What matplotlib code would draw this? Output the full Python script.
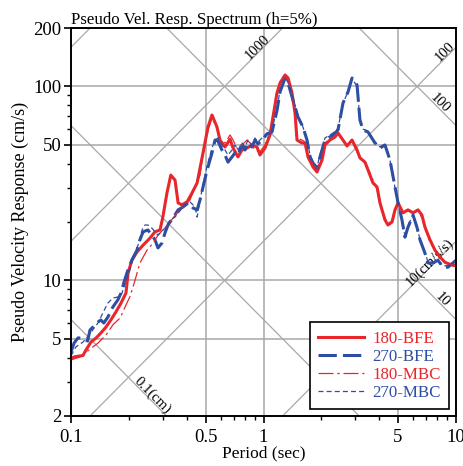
""" pseudo velocity response spectrum on a tripartite grid """
import matplotlib
matplotlib.use('Agg')
import matplotlib.pyplot as plt
from matplotlib.ticker import FixedLocator, NullFormatter
import numpy as np

plt.rcParams['font.family'] = ['Liberation Serif', 'DejaVu Serif']

# 180-BFE
t_180_bfe = [0.100, 0.106, 0.1154, 0.1196, 0.127, 0.135, 0.143, 0.152, 0.161, 0.171, 0.182, 0.193,
             0.198, 0.207, 0.220, 0.237, 0.257, 0.273, 0.290, 0.300, 0.315, 0.330, 0.347, 0.360,
             0.377, 0.401, 0.425, 0.452, 0.485, 0.515, 0.540, 0.573, 0.594, 0.631, 0.670, 0.695,
             0.737, 0.773, 0.821, 0.871, 0.925, 0.959, 1.018, 1.081, 1.120, 1.175, 1.219, 1.294,
             1.341, 1.406, 1.458, 1.493, 1.585, 1.643, 1.703, 1.808, 1.897, 2.014, 2.086, 2.213,
             2.350, 2.438, 2.588, 2.715, 2.884, 3.061, 3.170, 3.367, 3.490, 3.704, 3.890, 4.027,
             4.276, 4.433, 4.653, 4.821, 5.000, 5.304, 5.630, 5.984, 6.351, 6.653, 6.901, 7.324,
             7.780, 8.250, 8.760, 9.527, 10.0]
v_180_bfe = [3.98, 4.05, 4.1, 4.38, 4.81, 5.05, 5.36, 5.75, 6.25, 6.87, 7.65, 8.61,
             10.9, 12.7, 14.0, 15.2, 16.5, 17.8, 18.2, 21.2, 28.2, 34.9, 32.9, 25.1,
             24.5, 25.4, 28.2, 31.8, 45.4, 61.8, 71.2, 61.8, 52.9, 48.7, 53.5, 48.1,
             43.3, 47.0, 48.1, 49.9, 48.7, 44.3, 48.1, 56.2, 69.5, 92.5, 104.1, 114.5,
             110.5, 92.5, 72.9, 52.9, 51.1, 51.1, 43.3, 38.4, 36.2, 41.7, 49.9, 52.9,
             54.8, 57.5, 52.9, 49.3, 52.9, 47.0, 42.8, 40.7, 37.1, 31.8, 30.3, 25.1,
             20.5, 19.3, 20.0, 23.1, 25.1, 22.3, 23.1, 22.3, 23.1, 21.7, 18.8, 16.2,
             14.3, 13.2, 12.4, 12.0, 11.9]

# 270-BFE
t_270_bfe = [0.100, 0.1037, 0.1087, 0.1154, 0.122, 0.1255, 0.138, 0.143, 0.148, 0.1556, 0.165,
             0.175, 0.182, 0.188, 0.195, 0.207, 0.220, 0.228, 0.237, 0.251, 0.263, 0.273, 0.283,
             0.297, 0.308, 0.319, 0.339, 0.360, 0.382, 0.406, 0.431, 0.452, 0.468, 0.485, 0.509,
             0.540, 0.560, 0.580, 0.608, 0.631, 0.654, 0.686, 0.711, 0.737, 0.773, 0.802, 0.830,
             0.871, 0.903, 0.936, 0.982, 1.042, 1.107, 1.175, 1.219, 1.294, 1.341, 1.422, 1.511,
             1.603, 1.683, 1.745, 1.808, 1.897, 1.966, 2.086, 2.296, 2.438, 2.588, 2.748, 2.884,
             3.061, 3.170, 3.288, 3.490, 3.793, 4.027, 4.276, 4.539, 4.821, 5.000, 5.240, 5.431,
             5.630, 5.984, 6.268, 6.501, 6.901, 7.155, 7.597, 8.059, 8.557, 9.086, 9.638, 10.0]
v_270_bfe = [4.27, 4.75, 5.05, 5.05, 4.87, 5.55, 6.10, 6.25, 6.03, 6.48, 7.29,
             7.92, 8.61, 9.70, 10.9, 12.7, 14.3, 16.2, 17.8, 18.2, 17.1, 16.2, 14.7,
             15.6, 17.6, 19.3, 21.0, 23.1, 23.9, 25.1, 23.6, 23.1, 26.0, 30.3, 37.0,
             45.4, 52.9, 52.3, 47.0, 44.3, 40.7, 43.3, 45.4, 44.3, 49.9, 47.0, 51.1,
             48.7, 52.9, 50.5, 52.9, 56.8, 58.2, 75.0, 93.6, 110.5, 104.1, 85.1, 69.5,
             61.8, 52.9, 43.3, 40.3, 37.9, 43.3, 52.9, 56.2, 59.6, 82.1, 93.6, 110.5,
             101.7, 67.1, 59.6, 58.2, 51.1, 48.1, 49.9, 41.7, 30.3, 25.1, 20.5, 16.7,
             18.8, 21.7, 18.8, 16.2, 13.8, 12.3, 12.3, 12.7, 11.7, 11.7, 12.3, 12.7]

# 180-MBC
t_180_mbc = [0.100, 0.1114, 0.124, 0.138, 0.152, 0.165, 0.180, 0.193, 0.202, 0.215, 0.228, 0.248,
             0.267, 0.283, 0.300, 0.327, 0.355, 0.382, 0.415, 0.441, 0.468, 0.485, 0.515, 0.540,
             0.573, 0.594, 0.631, 0.670, 0.695, 0.737, 0.773, 0.821, 0.851, 0.903, 0.959, 1.018,
             1.081, 1.120, 1.175, 1.219, 1.294, 1.341, 1.406, 1.458, 1.493, 1.585, 1.643, 1.703,
             1.808, 1.897, 2.014, 2.086, 2.213, 2.350, 2.438, 2.588, 2.715, 2.884, 3.061, 3.170,
             3.367, 3.490, 3.704, 3.890, 4.027, 4.276, 4.433, 4.653, 4.821, 5.000, 5.304, 5.630,
             5.984, 6.351, 6.653, 6.901, 7.324, 7.780, 8.250, 8.760, 9.527, 10.0]
v_180_mbc = [3.89, 4.03, 4.38, 4.75, 5.23, 5.9, 6.4, 7.47, 8.21, 10.0, 12.3, 14.3,
             15.6, 17.1, 18.2, 20.0, 22.3, 23.9, 26.0, 30.3, 34.9, 44.3, 59.6, 68.8,
             61.0, 52.9, 51.1, 56.2, 52.9, 47.0, 49.9, 52.9, 51.1, 47.0, 46.0, 49.9,
             58.2, 71.2, 93.6, 106.0, 111.7, 107.9, 90.5, 71.2, 54.2, 52.9, 51.7, 44.3,
             39.5, 37.9, 42.8, 51.1, 54.2, 56.2, 57.5, 52.3, 49.3, 52.3, 46.0, 43.3,
             40.3, 37.9, 32.9, 29.5, 24.5, 21.0, 19.5, 20.5, 23.1, 24.5, 22.5, 22.8,
             22.5, 22.8, 21.0, 18.6, 15.8, 14.3, 13.4, 12.5, 12.0, 11.9]

# 270-MBC
t_270_mbc = [0.100, 0.106, 0.1154, 0.124, 0.138, 0.148, 0.1556, 0.165, 0.175, 0.184, 0.190, 0.198,
             0.207, 0.225, 0.234, 0.242, 0.251, 0.263, 0.283, 0.308, 0.327, 0.347, 0.382, 0.415,
             0.441, 0.452, 0.468, 0.485, 0.509, 0.540, 0.560, 0.580, 0.608, 0.631, 0.654, 0.686,
             0.711, 0.737, 0.773, 0.802, 0.830, 0.871, 0.903, 0.936, 0.982, 1.042, 1.107, 1.175,
             1.219, 1.294, 1.341, 1.422, 1.511, 1.603, 1.683, 1.745, 1.808, 1.897, 1.966, 2.086,
             2.296, 2.438, 2.588, 2.748, 2.884, 3.061, 3.170, 3.288, 3.490, 3.793, 4.027, 4.276,
             4.539, 4.821, 5.000, 5.240, 5.431, 5.630, 5.984, 6.268, 6.501, 6.901, 7.155, 7.597,
             8.059, 8.557, 9.086, 9.638, 10.0]
v_270_mbc = [4.08, 4.54, 4.81, 5.23, 6.03, 6.95, 7.65, 8.11, 8.21, 8.61, 9.47, 10.6,
             12.4, 15.6, 18.2, 19.3, 19.3, 18.6, 17.1, 18.6, 20.5, 21.2, 23.9, 25.4,
             23.9, 21.2, 26.0, 31.0, 38.9, 48.1, 52.9, 54.2, 49.9, 47.0, 44.3, 47.0,
             49.9, 47.0, 51.1, 48.7, 52.9, 49.9, 54.2, 51.7, 54.2, 57.5, 59.6, 77.0,
             95.8, 110.5, 105.0, 87.0, 71.2, 61.8, 52.9, 44.3, 40.7, 38.4, 44.3, 54.2,
             57.5, 60.7, 82.1, 93.6, 109.0, 100.5, 67.1, 60.3, 58.8, 51.7, 48.7, 50.5,
             41.7, 30.0, 24.5, 20.5, 16.9, 19.0, 22.0, 19.0, 16.2, 14.0, 12.4, 12.4,
             12.7, 11.9, 11.9, 12.3, 12.7]

# tripartite grid: displacement (cm) and acceleration (cm/s/s) decades
disp_levels = [0.01, 0.1, 1, 10, 100, 1000]
acc_levels = [1, 10, 100, 1000, 10000, 100000]

x_ticks = [0.1, 0.5, 1, 5, 10]
y_ticks = [2, 5, 10, 50, 100, 200]

RED = '#e8262b'
BLUE = '#2e4ea3'
GRID = '#a8a8a8'

fig = plt.figure(figsize=(4.64, 4.66), dpi=100)
ax = fig.add_axes([71 / 464, 1 - 416 / 466, 385 / 464, 388 / 466])
ax.set_xscale('log')
ax.set_yscale('log')
ax.set_xlim(0.1, 10)
ax.set_ylim(2, 200)

# diagonal lines
tt = np.array([0.05, 20.0])
for d in disp_levels:
    ax.plot(tt, 2 * np.pi * d / tt, color=GRID, lw=0.9, zorder=1)
for a in acc_levels:
    ax.plot(tt, a * tt / (2 * np.pi), color=GRID, lw=0.9, zorder=1)

# major grid
for x in x_ticks[1:-1]:
    ax.axvline(x, color=GRID, lw=1.1, zorder=1)
for y in y_ticks[1:-1]:
    ax.axhline(y, color=GRID, lw=1.1, zorder=1)

# diagonal labels
lab = dict(fontsize=10.5, ha='center', va='center', zorder=2)
ax.text(0.93, 160, '1000', rotation=45, **lab)
ax.text(8.77, 150, '100', rotation=45, **lab)
ax.text(8.26, 82, '100', rotation=-45, **lab)
ax.text(7.33, 12.4, '10(cm/s/s)', rotation=45, **lab)
ax.text(8.45, 7.93, '10', rotation=-45, **lab)
ax.text(0.264, 2.56, '0.1(cm)', rotation=-45, **lab)

# spectra
ax.plot(t_180_bfe, v_180_bfe, color=RED, lw=2.2, label='180-BFE', zorder=3)
ax.plot(t_270_bfe, v_270_bfe, color=BLUE, lw=2.2, dashes=(6, 2), label='270-BFE', zorder=4)
ax.plot(t_180_mbc, v_180_mbc, color=RED, lw=0.9, dashes=(12, 3, 2, 3), label='180-MBC', zorder=5)
ax.plot(t_270_mbc, v_270_mbc, color=BLUE, lw=0.9, dashes=(4, 2.5), label='270-MBC', zorder=6)

# axes and ticks
ax.xaxis.set_major_locator(FixedLocator(x_ticks))
ax.set_xticklabels(['0.1', '0.5', '1', '5', '10'])
ax.xaxis.set_minor_locator(FixedLocator([0.2, 0.3, 0.4, 0.6, 0.7, 0.8, 0.9,
                                         2, 3, 4, 6, 7, 8, 9]))
ax.xaxis.set_minor_formatter(NullFormatter())
ax.yaxis.set_major_locator(FixedLocator(y_ticks))
ax.set_yticklabels(['2', '5', '10', '50', '100', '200'])
ax.yaxis.set_minor_locator(FixedLocator([3, 4, 6, 7, 8, 9, 20, 30, 40, 60, 70, 80, 90]))
ax.yaxis.set_minor_formatter(NullFormatter())
ax.tick_params(which='major', direction='out', length=5, width=1.2, labelsize=13.5, pad=2)
ax.tick_params(axis='x', which='major', pad=4)
ax.tick_params(which='minor', direction='out', length=3, width=1)
for s in ax.spines.values():
    s.set_linewidth(1.4)
    s.set_zorder(10)

ax.set_xlabel('Period (sec)', fontsize=12.5, labelpad=0)
ax.set_ylabel('Pseudo Velocity Response (cm/s)', fontsize=13, labelpad=3)
ax.set_title('Pseudo Vel. Resp. Spectrum (h=5%)', loc='left', fontsize=12.2, pad=2)

leg = ax.legend(loc='lower right', bbox_to_anchor=(1.0, 0.0), fontsize=12.2,
                fancybox=False, framealpha=1, edgecolor='black', handlelength=2.7,
                borderpad=0.5, labelspacing=0.12, handletextpad=0.5, borderaxespad=0.4)
leg.get_frame().set_linewidth(1.2)
leg.set_zorder(20)
for txt, line in zip(leg.get_texts(), leg.get_lines()):
    txt.set_color(line.get_color())

fig.savefig('out.png', dpi=100)
